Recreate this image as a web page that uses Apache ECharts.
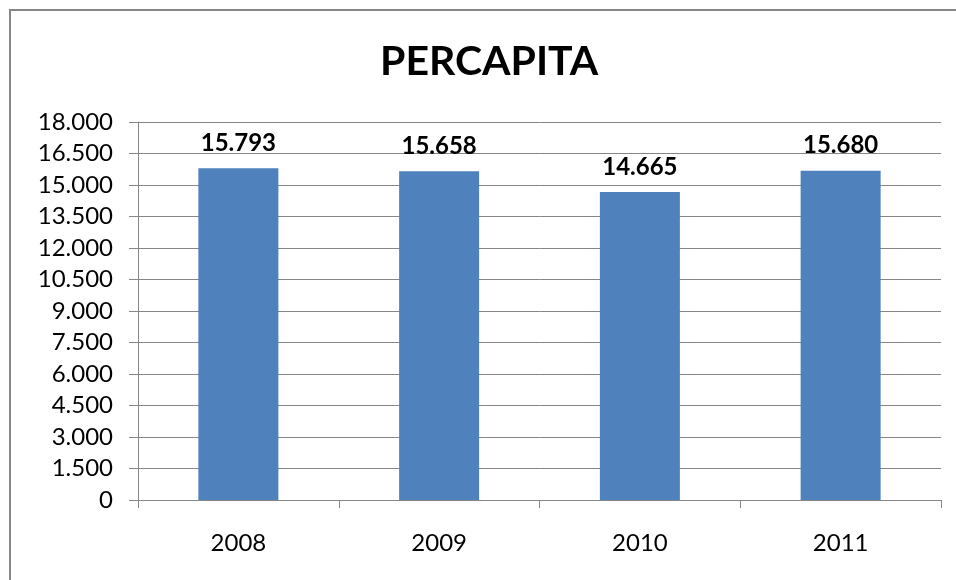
<!DOCTYPE html>
<html>
<head>
<meta charset="utf-8">
<script src="https://cdn.jsdelivr.net/npm/echarts@6/dist/echarts.min.js"></script>
<style>
  html, body { margin: 0; padding: 0; background: #fff; }
  #chart { width: 956px; height: 580px; }
</style>
</head>
<body>
<div id="chart"></div>
<script>
let $ = a => document.querySelector(a)

// data
let years = ['2008', '2009', '2010', '2011']
let percapita = [15793, 15658, 14665, 15680]

// 18000 -> "18.000"
let fmt = v => String(v).replace(/\B(?=(\d{3})+(?!\d))/g, '.')

{
    echarts.init($('#chart')).setOption({
        animation: false,
        textStyle: { fontFamily: 'Lato' },
        title: {
            text: 'PERCAPITA',
            left: 375,
            top: 36,
            textStyle: { fontSize: 41, fontWeight: 'bold', color: '#000', fontFamily: 'Lato' }
        },
        graphic: [{
            type: 'rect',
            shape: { x: 10, y: 10, width: 960, height: 600 },
            style: { fill: 'none', stroke: '#868686', lineWidth: 2 },
            silent: true
        }],
        grid: { left: 138, right: 15, top: 122, bottom: 80 },
        xAxis: {
            type: 'category',
            data: years,
            axisLine: { lineStyle: { color: '#868686', width: 1 } },
            axisTick: { show: true, length: 8, lineStyle: { color: '#868686' } },
            axisLabel: { color: '#000', fontSize: 24, margin: 31 }
        },
        yAxis: {
            type: 'value',
            min: 0,
            max: 18000,
            interval: 1500,
            axisLine: { show: true, lineStyle: { color: '#868686' } },
            axisTick: { show: true, length: 9, inside: false, lineStyle: { color: '#868686' } },
            splitLine: { lineStyle: { color: '#868686', width: 1 } },
            axisLabel: { color: '#000', fontSize: 24, margin: 25, formatter: fmt }
        },
        series: [{
            name: 'PERCAPITA',
            type: 'bar',
            data: percapita,
            barWidth: 80,
            itemStyle: { color: '#4F81BD' },
            label: {
                show: true,
                position: 'top',
                distance: 13,
                color: '#000',
                fontSize: 24,
                fontWeight: 'bold',
                formatter: p => fmt(p.value)
            }
        }]
    })
}
</script>
</body>
</html>
